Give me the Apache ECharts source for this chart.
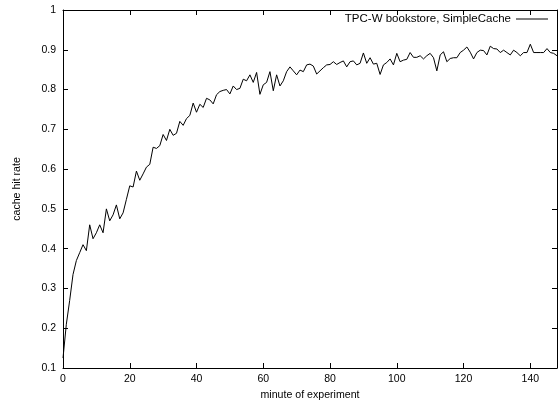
<!DOCTYPE html>
<html>
<head>
<meta charset="utf-8">
<script src="https://cdn.jsdelivr.net/npm/echarts@6/dist/echarts.min.js"></script>
<style>
html,body{margin:0;padding:0;background:#fff;}
#chart{width:558px;height:400px;}
</style>
</head>
<body>
<div id="chart"></div>
<script>
var seriesName = 'TPC-W bookstore, SimpleCache';
var xTitle = 'minute of experiment';
var yTitle = 'cache hit rate';
var xTicks = [0, 20, 40, 60, 80, 100, 120, 140];
var yTicks = [0.1, 0.2, 0.3, 0.4, 0.5, 0.6, 0.7, 0.8, 0.9, 1];

var minutes = [];
for (var m = 0; m <= 148; m++) minutes.push(m);

var hitRate = [
  0.125, 0.21, 0.27, 0.335, 0.37, 0.39, 0.41, 0.395, 0.46, 0.425,
  0.44, 0.46, 0.44, 0.50, 0.47, 0.485, 0.51, 0.475, 0.49, 0.524,
  0.558, 0.555, 0.595, 0.572, 0.588, 0.605, 0.612, 0.655, 0.652, 0.659,
  0.687, 0.672, 0.70, 0.685, 0.69, 0.72, 0.71, 0.727, 0.735, 0.766,
  0.743, 0.763, 0.755, 0.778, 0.774, 0.764, 0.787, 0.795, 0.798, 0.80,
  0.789, 0.809, 0.80, 0.803, 0.826, 0.822, 0.837, 0.818, 0.843, 0.788,
  0.812, 0.818, 0.845, 0.797, 0.837, 0.809, 0.822, 0.845, 0.857, 0.847,
  0.837, 0.849, 0.845, 0.862, 0.864, 0.859, 0.839, 0.847, 0.855, 0.862,
  0.863, 0.87, 0.863, 0.868, 0.872, 0.857, 0.87, 0.872, 0.862, 0.866,
  0.892, 0.866, 0.88, 0.864, 0.866, 0.838, 0.862, 0.868, 0.877, 0.862,
  0.891, 0.87, 0.874, 0.876, 0.893, 0.881, 0.881, 0.885, 0.877, 0.885,
  0.891, 0.88, 0.847, 0.887, 0.895, 0.87, 0.878, 0.88, 0.88, 0.893,
  0.899, 0.907, 0.894, 0.877, 0.893, 0.899, 0.898, 0.887, 0.909, 0.903,
  0.902, 0.893, 0.899, 0.893, 0.887, 0.899, 0.893, 0.885, 0.893, 0.893,
  0.914, 0.893, 0.893, 0.893, 0.893, 0.903, 0.893, 0.891, 0.885
];

var FONT = '"Liberation Sans", Arial, Helvetica, sans-serif';
var chart = echarts.init(document.getElementById('chart'), null, {renderer: 'canvas'});

var axisLine = {show: true, onZero: false, lineStyle: {color: '#000', width: 1}};
var axisTick = {show: true, inside: true, length: 5, lineStyle: {color: '#000', width: 1}};

function fmtX(v) { return xTicks.indexOf(v) >= 0 ? String(v) : ''; }
function fmtY(v) {
  var r = Math.round(v * 10) / 10;
  for (var i = 0; i < yTicks.length; i++) if (Math.abs(yTicks[i] - r) < 1e-9) return String(yTicks[i]);
  return '';
}

chart.setOption({
  animation: false,
  backgroundColor: '#fff',
  textStyle: {fontFamily: FONT, color: '#000'},
  grid: {left: 63, right: 1, top: 10, bottom: 32, containLabel: false, outerBoundsMode: 'none'},
  legend: {
    right: 10, top: 13, align: 'right', padding: 0,
    itemWidth: 32, itemHeight: 1, icon: 'rect',
    textStyle: {fontFamily: FONT, fontSize: 11.5, color: '#000'},
    data: [{name: seriesName, icon: 'rect'}],
    selectedMode: false
  },
  xAxis: [
    {
      type: 'value', min: 0, max: 148, interval: 20, position: 'bottom',
      axisLine: axisLine, axisTick: axisTick, splitLine: {show: false},
      axisLabel: {show: true, margin: 6, fontSize: 10.5, fontFamily: FONT, color: '#000', formatter: fmtX, showMaxLabel: false},
      name: xTitle, nameLocation: 'middle', nameGap: 15,
      nameTextStyle: {fontSize: 10.6, fontFamily: FONT, color: '#000'}
    },
    {
      type: 'value', min: 0, max: 148, interval: 20, position: 'top',
      axisLine: axisLine, axisTick: axisTick, splitLine: {show: false},
      axisLabel: {show: false}
    }
  ],
  yAxis: [
    {
      type: 'value', min: 0.1, max: 1, interval: 0.1, position: 'left',
      axisLine: axisLine, axisTick: axisTick, splitLine: {show: false},
      axisLabel: {show: true, margin: 7, fontSize: 10.5, fontFamily: FONT, color: '#000', formatter: fmtY},
      name: yTitle, nameLocation: 'middle', nameGap: 40, nameRotate: 90,
      nameTextStyle: {fontSize: 10.6, fontFamily: FONT, color: '#000'}
    },
    {
      type: 'value', min: 0.1, max: 1, interval: 0.1, position: 'right',
      axisLine: axisLine, axisTick: axisTick, splitLine: {show: false},
      axisLabel: {show: false}
    }
  ],
  series: [{
    name: seriesName,
    type: 'line',
    xAxisIndex: 0, yAxisIndex: 0,
    data: minutes.map(function (m, i) { return [m, hitRate[i]]; }),
    showSymbol: false, symbol: 'none',
    lineStyle: {color: '#000', width: 1},
    itemStyle: {color: '#000'},
    clip: true
  }]
});
</script>
</body>
</html>
